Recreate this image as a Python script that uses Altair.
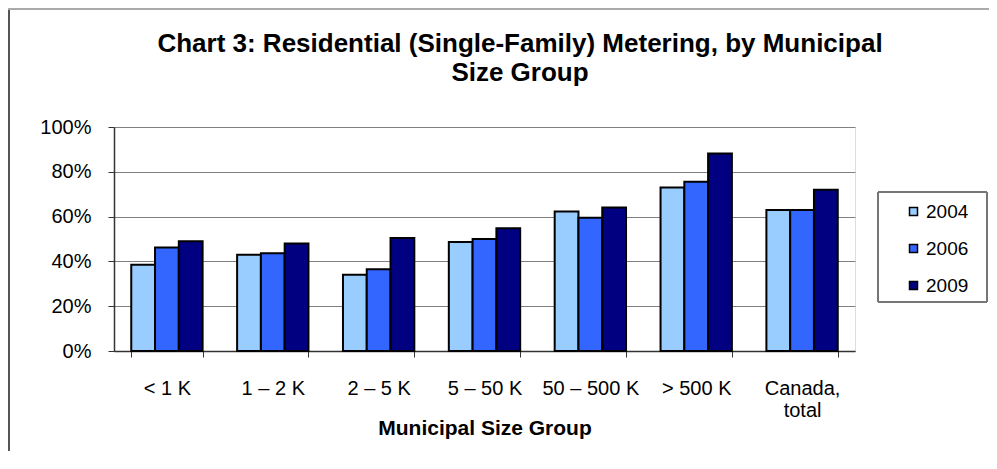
import altair as alt
import pandas as pd

categories = ["< 1 K", "1 – 2 K", "2 – 5 K", "5 – 50 K", "50 – 500 K", "> 500 K", "Canada, total"]
years = ["2004", "2006", "2009"]
v2004 = [0.385, 0.43, 0.34, 0.487, 0.623, 0.73, 0.63]
v2006 = [0.462, 0.436, 0.365, 0.50, 0.595, 0.756, 0.63]
v2009 = [0.49, 0.48, 0.505, 0.548, 0.641, 0.882, 0.72]
colors = ["#99CCFF", "#3366FF", "#000080"]
title_line1 = "Chart 3: Residential (Single-Family) Metering, by Municipal"
title_line2 = "Size Group"
x_title = "Municipal Size Group"

rows = []
for yr, vals in zip(years, [v2004, v2006, v2009]):
    for c, v in zip(categories, vals):
        rows.append({"group": c, "year": yr, "value": v})
df = pd.DataFrame(rows)

FONT = "Liberation Sans"
W, H = 741, 224

bars = alt.Chart(df).mark_bar(stroke="black", strokeWidth=2).encode(
    x=alt.X("group:N", sort=categories,
            scale=alt.Scale(paddingInner=0.326, paddingOuter=0.163),
            axis=alt.Axis(title=x_title, labelAngle=0, tickBand="extent",
                          labelFontSize=20, labelFont=FONT, labelColor="black",
                          labelPadding=21, tickSize=6, tickColor="#333",
                          domainColor="#333", domainWidth=1.5,
                          labelExpr="datum.value == 'Canada, total' ? ['Canada,', 'total'] : datum.label",
                          labelLineHeight=22,
                          titleFont=FONT, titleFontSize=21, titleFontWeight="bold",
                          titleColor="black", titleBaseline="alphabetic", titleY=83)),
    xOffset=alt.XOffset("year:N", sort=years, scale=alt.Scale(paddingInner=0, paddingOuter=0)),
    y=alt.Y("value:Q", scale=alt.Scale(domain=[0, 1]),
            axis=alt.Axis(title=None, format=".0%", values=[0, 0.2, 0.4, 0.6, 0.8, 1.0],
                          labelFontSize=20, labelFont=FONT, labelColor="black",
                          labelPadding=17, tickSize=6, tickColor="#333",
                          domainColor="#333", domainWidth=1.5,
                          grid=True, gridColor="#808080", gridWidth=1)),
    color=alt.Color("year:N", sort=years,
                    scale=alt.Scale(domain=years, range=colors),
                    legend=alt.Legend(title=None, orient="none", legendX=790, legendY=75,
                                      padding=0, symbolType="square", symbolSize=64,
                                      symbolStrokeColor="black", symbolStrokeWidth=1.5,
                                      labelFontSize=19, labelFont=FONT, labelColor="black",
                                      labelOffset=3, rowPadding=17)),
)

legend_box = alt.Chart(df).mark_rect(fill=None, stroke="#777", strokeWidth=1).encode(
    x=alt.value(764), x2=alt.value(873), y=alt.value(65), y2=alt.value(175)
)

frame_left = alt.Chart(df).mark_rule(color="#555", strokeWidth=2).encode(
    x=alt.value(-105), y=alt.value(-119), y2=alt.value(H + 100)
)
frame_top = alt.Chart(df).mark_rule(color="#aaa", strokeWidth=2).encode(
    x=alt.value(-106), x2=alt.value(W + 134), y=alt.value(-118)
)

t1 = alt.Chart(pd.DataFrame({"t": [title_line1]})).mark_text(
    font=FONT, fontSize=26, fontWeight="bold", color="black", align="center", baseline="alphabetic"
).encode(text="t:N", x=alt.value(406), y=alt.value(-75))
t2 = alt.Chart(pd.DataFrame({"t": [title_line2]})).mark_text(
    font=FONT, fontSize=26, fontWeight="bold", color="black", align="center", baseline="alphabetic"
).encode(text="t:N", x=alt.value(406), y=alt.value(-46))

chart = alt.layer(bars, legend_box, frame_left, frame_top, t1, t2).properties(
    width=W, height=H,
    autosize=alt.AutoSizeParams(type="none"),
    padding={"left": 106, "top": 119, "right": 134, "bottom": 100},
).configure_view(stroke="#8c8c8c", strokeWidth=2).configure(background="white")

chart.save("out.html", embed_options={"renderer": "svg", "actions": False})
